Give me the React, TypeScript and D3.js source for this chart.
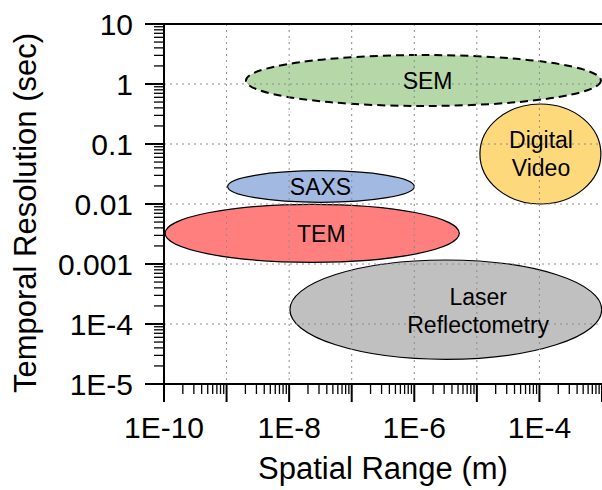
import React from "react";
import * as d3 from "d3";

const W = 602;
const H = 490;

// Axes
const xDomain = [1e-10, 1e-3];
const yDomain = [1e-5, 10];
const xTickValues = [1e-10, 1e-8, 1e-6, 1e-4];
const xTickLabels = ["1E-10", "1E-8", "1E-6", "1E-4"];
const yTickValues = [10, 1, 0.1, 0.01, 0.001, 1e-4, 1e-5];
const yTickLabels = ["10", "1", "0.1", "0.01", "0.001", "1E-4", "1E-5"];
const xGridValues = [1e-9, 1e-8, 1e-7, 1e-6, 1e-5, 1e-4];
const yGridValues = [1, 0.1, 0.01, 0.001, 1e-4];

// Techniques (ellipse extents in data units)
const techniques = ["SEM", "Digital Video", "SAXS", "TEM", "Laser Reflectometry"];
const xMin = [2.04e-9, 1.12e-5, 1.04e-9, 1.04e-10, 1.03e-8];
const xMax = [9.6e-4, 9.6e-4, 1.0e-6, 5.24e-6, 9.9e-4];
const yMax = [3.04, 0.464, 0.0359, 0.00989, 0.001166];
const yMin = [0.43, 0.01, 0.01067, 0.001067, 2.58e-5];
const labelLines = [["SEM"], ["Digital", "Video"], ["SAXS"], ["TEM"], ["Laser", "Reflectometry"]];
const labelX = [1.63e-6, 1.06e-4, 3.17e-8, 3.27e-8, 1.05e-5];
const labelY = [1.12, 0.0687, 0.0194, 0.00324, 1.67e-4];
const fills = ["#b6d7a8", "#fed97c", "#a2b9e2", "#ff7f7f", "#c0c0c0"];
const dashed = [true, false, false, false, false];

const FONT = "'Liberation Sans', Arial, sans-serif";

export default function App() {
  const left = 164, right = 602, top = 24, bottom = 384;
  const x = d3.scaleLog().domain(xDomain).range([left, right]);
  const y = d3.scaleLog().domain(yDomain).range([bottom, top]);

  const xMinor: number[] = [];
  for (let e = -10; e < -3; e++) for (let k = 2; k <= 9; k++) xMinor.push(k * Math.pow(10, e));
  const yMinor: number[] = [];
  for (let e = -5; e < 1; e++) for (let k = 2; k <= 9; k++) yMinor.push(k * Math.pow(10, e));
  const xMajorAll = d3.range(-10, -2).map((e) => Math.pow(10, e));
  const yMajorAll = d3.range(-5, 2).map((e) => Math.pow(10, e));

  return (
    <svg width={W} height={H} style={{ position: "absolute", left: 0, top: 0, background: "#fff" }}>
      {/* ellipses */}
      {techniques.map((t, i) => {
        const x0 = x(xMin[i]), x1 = x(xMax[i]);
        const y0 = y(yMax[i]), y1 = y(yMin[i]);
        return (
          <ellipse
            key={t}
            cx={(x0 + x1) / 2}
            cy={(y0 + y1) / 2}
            rx={(x1 - x0) / 2}
            ry={(y1 - y0) / 2}
            fill={fills[i]}
            stroke="#000"
            strokeWidth={dashed[i] ? 2 : 1.2}
            strokeDasharray={dashed[i] ? "8,5" : undefined}
          />
        );
      })}
      {/* grid */}
      {xGridValues.map((v) => (
        <line key={"gx" + v} x1={x(v)} x2={x(v)} y1={top} y2={bottom} stroke="#8c8c8c" strokeWidth={1} strokeDasharray="2,4" />
      ))}
      {yGridValues.map((v) => (
        <line key={"gy" + v} x1={left} x2={right} y1={y(v)} y2={y(v)} stroke="#8c8c8c" strokeWidth={1} strokeDasharray="2,4" />
      ))}
      {/* labels */}
      {techniques.map((t, i) => {
        const lines = labelLines[i];
        const cy = y(labelY[i]);
        const lh = 28;
        const start = cy - ((lines.length - 1) * lh) / 2 + 8.2;
        return (
          <text key={"l" + t} x={x(labelX[i])} y={start} textAnchor="middle" fontFamily={FONT} fontSize={23} fill="#000">
            {lines.map((ln, j) => (
              <tspan key={j} x={x(labelX[i])} y={start + j * lh}>
                {ln}
              </tspan>
            ))}
          </text>
        );
      })}
      {/* axes lines */}
      <line x1={left} x2={right} y1={top} y2={top} stroke="#000" strokeWidth={2} />
      <line x1={left} x2={left} y1={top - 1} y2={bottom + 1} stroke="#000" strokeWidth={2} />
      <line x1={left - 1} x2={right} y1={bottom} y2={bottom} stroke="#000" strokeWidth={2} />
      {/* x ticks */}
      {xMajorAll.map((v) => (
        <line key={"xt" + v} x1={x(v)} x2={x(v)} y1={bottom} y2={bottom + 18} stroke="#000" strokeWidth={2} />
      ))}
      {xMinor.map((v) => (
        <line key={"xm" + v} x1={x(v)} x2={x(v)} y1={bottom} y2={bottom + 10} stroke="#000" strokeWidth={1.3} />
      ))}
      {/* y ticks */}
      {yMajorAll.map((v) => (
        <line key={"yt" + v} x1={left - 19} x2={left} y1={y(v)} y2={y(v)} stroke="#000" strokeWidth={2} />
      ))}
      {yMinor.map((v) => (
        <line key={"ym" + v} x1={left - 10} x2={left} y1={y(v)} y2={y(v)} stroke="#000" strokeWidth={1.3} />
      ))}
      {/* tick labels */}
      {xTickValues.map((v, i) => (
        <text key={"xl" + v} x={x(v)} y={438} textAnchor="middle" fontFamily={FONT} fontSize={30} fill="#000">
          {xTickLabels[i]}
        </text>
      ))}
      {yTickValues.map((v, i) => (
        <text key={"yl" + v} x={133} y={y(v) + 10.5} textAnchor="end" fontFamily={FONT} fontSize={30} fill="#000">
          {yTickLabels[i]}
        </text>
      ))}
      {/* axis titles */}
      <text x={(257 + 509) / 2} y={479} textAnchor="middle" fontFamily={FONT} fontSize={31} fill="#000">
        Spatial Range (m)
      </text>
      <text
        transform={`translate(36,${(28 + 398) / 2}) rotate(-90)`}
        textAnchor="middle"
        fontFamily={FONT}
        fontSize={31}
        fill="#000"
      >
        Temporal Resolution (sec)
      </text>
    </svg>
  );
}
